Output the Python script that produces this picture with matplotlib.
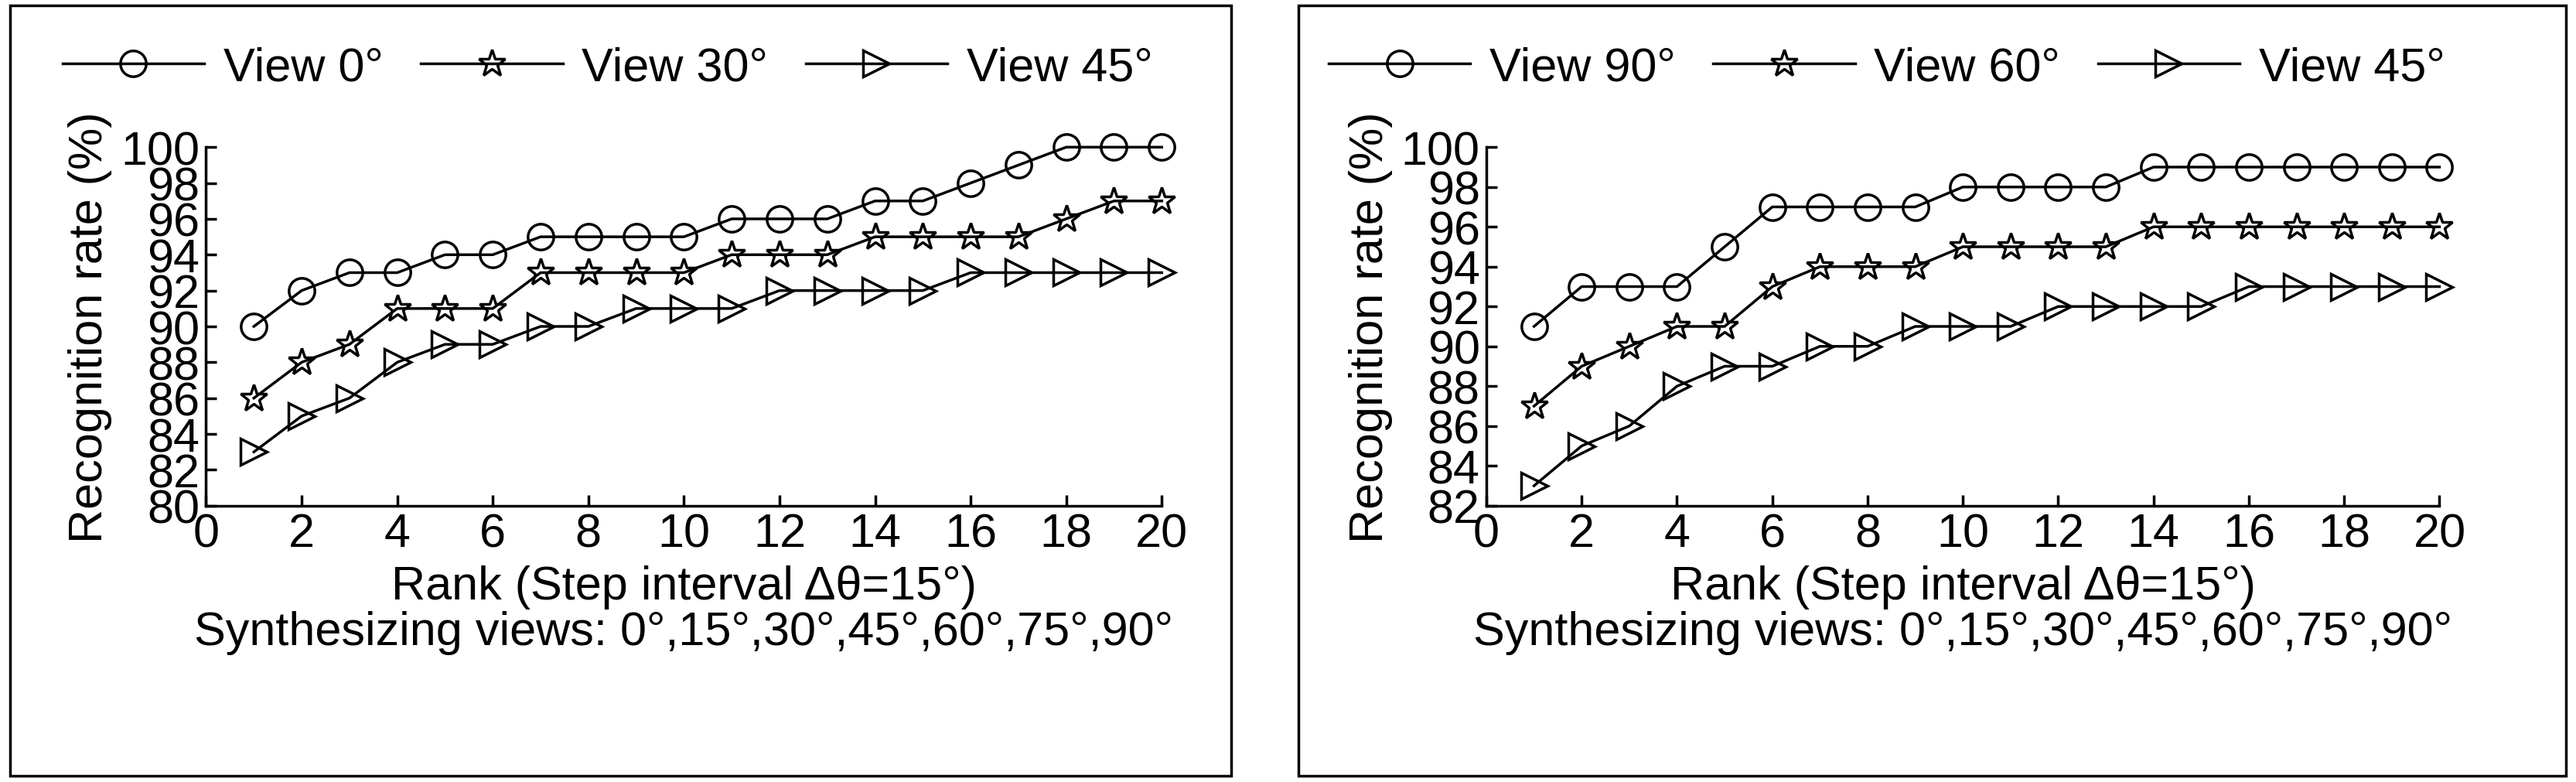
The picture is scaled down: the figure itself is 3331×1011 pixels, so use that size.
import matplotlib
matplotlib.use("Agg")
import matplotlib.pyplot as plt
from matplotlib.patches import Rectangle

plt.rcParams['font.family'] = ['Liberation Sans', 'DejaVu Sans']

rank = list(range(1, 21))
left_labels = ["View 0°", "View 30°", "View 45°"]
left_v0 = [90,92,93,93,94,94,95,95,95,95,96,96,96,97,97,98,99,100,100,100]
left_v30 = [86,88,89,91,91,91,93,93,93,93,94,94,94,95,95,95,95,96,97,97]
left_v45 = [83,85,86,88,89,89,90,90,91,91,91,92,92,92,92,93,93,93,93,93]
right_labels = ["View 90°", "View 60°", "View 45°"]
right_v90 = [91,93,93,93,95,97,97,97,97,98,98,98,98,99,99,99,99,99,99,99]
right_v60 = [87,89,90,91,91,93,94,94,94,95,95,95,95,96,96,96,96,96,96,96]
right_v45 = [83,85,86,88,89,89,90,90,91,91,91,92,92,92,92,93,93,93,93,93]
xticks = list(range(0, 21, 2))
left_yticks = list(range(80, 101, 2))
right_yticks = list(range(82, 101, 2))

fig = plt.figure(figsize=(33.31, 10.12), dpi=100)
for x0, w in [(0.004, 0.474), (0.504, 0.492)]:
    fig.patches.append(Rectangle((x0, 0.008), w, 0.984, transform=fig.transFigure,
                                 fill=False, edgecolor='black', linewidth=2.5))

markers = ['o', '*', '>']
fs = 44

def panel(rect, series, labels, yticks, ylim):
    ax = fig.add_axes(rect)
    for s, m, lab in zip(series, markers, labels):
        ax.plot(rank, s, color='black', linewidth=2.5, marker=m, markersize=24 if m != '*' else 26,
                markerfacecolor='none', markeredgecolor='black', markeredgewidth=2.5, label=lab,
                clip_on=False)
    ax.set_xlim(0, 20)
    ax.set_ylim(*ylim)
    ax.set_xticks(xticks)
    ax.set_yticks(yticks)
    ax.tick_params(labelsize=fs, width=2.5, length=10, direction='in', pad=6)
    for sp in ['top', 'right']:
        ax.spines[sp].set_visible(False)
    for sp in ['left', 'bottom']:
        ax.spines[sp].set_linewidth(2.5)
    ax.set_ylabel("Recognition rate (%)", fontsize=fs, labelpad=8)
    ax.set_xlabel("Rank (Step interval Δθ=15°)\nSynthesizing views: 0°,15°,30°,45°,60°,75°,90°",
                  fontsize=fs, linespacing=1.05, labelpad=8)
    ax.legend(loc='lower center', bbox_to_anchor=(0.42, 1.04), ncol=3, frameon=False,
              fontsize=fs, handlelength=3, columnspacing=0.8, handletextpad=0.4)
    return ax

panel([0.080, 0.353, 0.371, 0.458], [left_v0, left_v30, left_v45], left_labels, left_yticks, (80, 100))
panel([0.577, 0.353, 0.370, 0.458], [right_v90, right_v60, right_v45], right_labels, right_yticks, (82, 100))

fig.savefig("out.png", dpi=100)
